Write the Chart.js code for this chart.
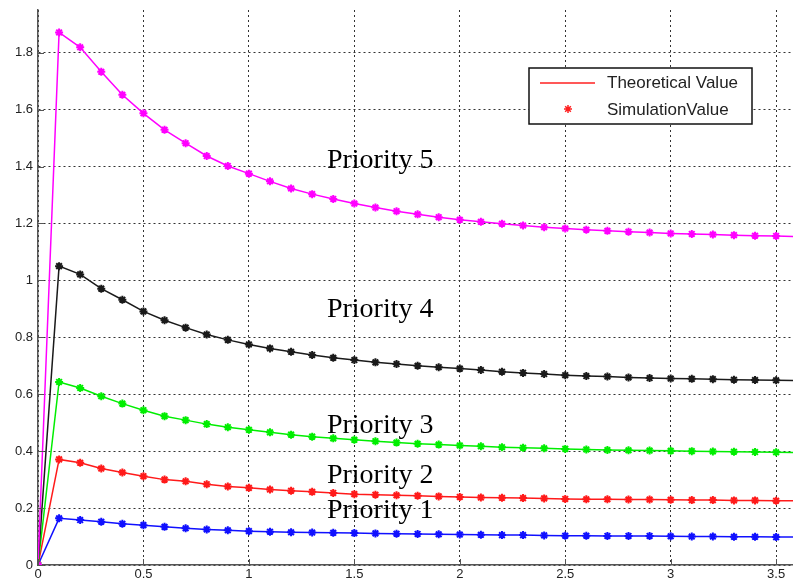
<!DOCTYPE html>
<html>
<head>
<meta charset="utf-8">
<script src="https://cdn.jsdelivr.net/npm/chart.js@4/dist/chart.umd.min.js"></script>
<style>
html, body { margin: 0; padding: 0; background: #fff; }
#wrap { width: 793px; height: 585px; }
</style>
</head>
<body>
<div id="wrap"><canvas id="chart" width="793" height="585"></canvas></div>
<script>
// time steps of the simulation
var times = [0, 0.1, 0.2, 0.3, 0.4, 0.5, 0.6, 0.7, 0.8, 0.9, 1.0, 1.1, 1.2, 1.3, 1.4, 1.5, 1.6, 1.7, 1.8, 1.9,
             2.0, 2.1, 2.2, 2.3, 2.4, 2.5, 2.6, 2.7, 2.8, 2.9, 3.0, 3.1, 3.2, 3.3, 3.4, 3.5, 3.6];

var priority5 = [0, 1.871, 1.819, 1.733, 1.652, 1.587, 1.529, 1.482, 1.437, 1.402, 1.375, 1.348, 1.323, 1.303, 1.286, 1.27,
                 1.256, 1.243, 1.232, 1.222, 1.213, 1.206, 1.199, 1.193, 1.187, 1.182, 1.178, 1.174, 1.171, 1.168, 1.165,
                 1.163, 1.161, 1.159, 1.157, 1.156, 1.154];
var priority4 = [0, 1.05, 1.021, 0.971, 0.932, 0.891, 0.86, 0.834, 0.81, 0.791, 0.775, 0.761, 0.749, 0.738, 0.728, 0.72,
                 0.712, 0.706, 0.70, 0.695, 0.69, 0.685, 0.679, 0.675, 0.671, 0.667, 0.664, 0.662, 0.659, 0.657, 0.655,
                 0.654, 0.653, 0.651, 0.65, 0.649, 0.648];
var priority3 = [0, 0.643, 0.622, 0.593, 0.567, 0.544, 0.523, 0.509, 0.495, 0.484, 0.475, 0.466, 0.458, 0.451, 0.445, 0.44,
                 0.435, 0.43, 0.426, 0.423, 0.42, 0.417, 0.414, 0.412, 0.41, 0.408, 0.406, 0.404, 0.403, 0.402, 0.401,
                 0.4, 0.399, 0.398, 0.397, 0.396, 0.395];
var priority2 = [0, 0.371, 0.359, 0.339, 0.325, 0.312, 0.30, 0.294, 0.284, 0.276, 0.271, 0.265, 0.261, 0.257, 0.253, 0.249,
                 0.247, 0.245, 0.243, 0.241, 0.239, 0.237, 0.236, 0.235, 0.234, 0.232, 0.231, 0.231, 0.23, 0.23, 0.229,
                 0.228, 0.228, 0.227, 0.227, 0.226, 0.226];
var priority1 = [0, 0.164, 0.158, 0.152, 0.145, 0.14, 0.134, 0.129, 0.125, 0.122, 0.119, 0.117, 0.115, 0.114, 0.113, 0.112,
                 0.111, 0.11, 0.109, 0.108, 0.107, 0.106, 0.105, 0.105, 0.104, 0.103, 0.103, 0.102, 0.102, 0.102, 0.101,
                 0.1, 0.1, 0.099, 0.099, 0.098, 0.098];

var xTickLabels = ["0", "0.5", "1", "1.5", "2", "2.5", "3", "3.5"];
var yTickLabels = ["0", "0.2", "0.4", "0.6", "0.8", "1", "1.2", "1.4", "1.6", "1.8"];
var legendLabels = ["Theoretical Value", "SimulationValue"];

// text labels placed in data units
var priorityNames = ["Priority 5", "Priority 4", "Priority 3", "Priority 2", "Priority 1"];
var nameAnchors = [[1.37, 1.396], [1.37, 0.87], [1.37, 0.465], [1.37, 0.288], [1.37, 0.166]];

function toPoints(values){
    var pts = [];
    for(var i = 0; i < values.length; i++){
        pts.push({x: times[i], y: values[i]});
    }
    return pts;
}
function series(values, color){
    return {
        data: toPoints(values),
        borderColor: color,
        backgroundColor: color,
        borderWidth: 1.5,
        pointStyle: "star",
        pointRadius: 4,
        pointBorderWidth: 2,
        pointBorderColor: color,
        pointHoverRadius: 4,
        tension: 0
    };
}

var decorations = {
    id: "decorations",
    afterDraw: function(chart){
        var ctx = chart.ctx;
        var xs = chart.scales.x, ys = chart.scales.y;
        var area = chart.chartArea;
        ctx.save();
        // inward tick marks
        ctx.strokeStyle = "#555";
        ctx.lineWidth = 1;
        xs.ticks.forEach(function(t){
            var px = Math.round(xs.getPixelForValue(t.value)) + 0.5;
            ctx.beginPath(); ctx.moveTo(px, area.bottom); ctx.lineTo(px, area.bottom - 6); ctx.stroke();
        });
        ys.ticks.forEach(function(t){
            var py = Math.round(ys.getPixelForValue(t.value)) + 0.5;
            ctx.beginPath(); ctx.moveTo(area.left, py); ctx.lineTo(area.left + 6, py); ctx.stroke();
        });
        // priority labels
        ctx.fillStyle = "#000";
        ctx.font = "28px 'Liberation Serif', 'Times New Roman', serif";
        ctx.textBaseline = "alphabetic";
        ctx.textAlign = "left";
        for(var i = 0; i < priorityNames.length; i++){
            ctx.fillText(priorityNames[i], xs.getPixelForValue(nameAnchors[i][0]), ys.getPixelForValue(nameAnchors[i][1]));
        }
        // legend box
        ctx.fillStyle = "#fff";
        ctx.fillRect(529, 68, 223, 56);
        ctx.strokeStyle = "#111";
        ctx.lineWidth = 1.5;
        ctx.strokeRect(529, 68, 223, 56);
        ctx.strokeStyle = "#ff2020";
        ctx.lineWidth = 1.5;
        ctx.beginPath(); ctx.moveTo(540, 83); ctx.lineTo(595, 83); ctx.stroke();
        ctx.fillStyle = "#ff2020";
        Chart.helpers.drawPoint(ctx, {pointStyle: "star", radius: 4, borderWidth: 2}, 568, 109);
        ctx.fillStyle = "#222";
        ctx.font = "17px 'Liberation Sans', Arial, sans-serif";
        ctx.textBaseline = "middle";
        ctx.fillText(legendLabels[0], 607, 83);
        ctx.fillText(legendLabels[1], 607, 110);
        ctx.restore();
    }
};

var tickFont = {family: "'Liberation Sans', Arial, sans-serif", size: 13};

new Chart(document.getElementById("chart").getContext("2d"), {
    type: "line",
    data: {
        datasets: [
            series(priority5, "#ff00ff"),
            series(priority4, "#1a1a1a"),
            series(priority3, "#00ee00"),
            series(priority2, "#ff1a1a"),
            series(priority1, "#1010ff")
        ]
    },
    options: {
        responsive: false,
        animation: false,
        events: [],
        layout: {autoPadding: false, padding: {top: 10, left: 0, right: 0, bottom: 0}},
        plugins: {
            legend: {display: false},
            tooltip: {enabled: false}
        },
        scales: {
            x: {
                type: "linear",
                min: 0,
                max: 3.58,
                afterFit: function(scale){
                    scale.height = 20;
                    scale.paddingLeft = 0;
                    scale.paddingRight = 0;
                },
                ticks: {
                    stepSize: 0.5,
                    includeBounds: false,
                    padding: 2,
                    color: "#222",
                    font: tickFont,
                    maxRotation: 0,
                    callback: function(v, i){ return xTickLabels[i]; }
                },
                grid: {color: "#333", lineWidth: 1, drawTicks: false},
                border: {color: "#555", width: 1.5, dash: [2, 3]}
            },
            y: {
                type: "linear",
                min: 0,
                max: 1.95,
                afterFit: function(scale){
                    scale.width = 38;
                    scale.paddingTop = 0;
                    scale.paddingBottom = 0;
                },
                ticks: {
                    stepSize: 0.2,
                    includeBounds: false,
                    padding: 5,
                    color: "#222",
                    font: tickFont,
                    callback: function(v, i){ return yTickLabels[i]; }
                },
                grid: {color: "#333", lineWidth: 1, drawTicks: false},
                border: {color: "#555", width: 1.5, dash: [2, 3]}
            }
        }
    },
    plugins: [decorations]
});
</script>
</body>
</html>
